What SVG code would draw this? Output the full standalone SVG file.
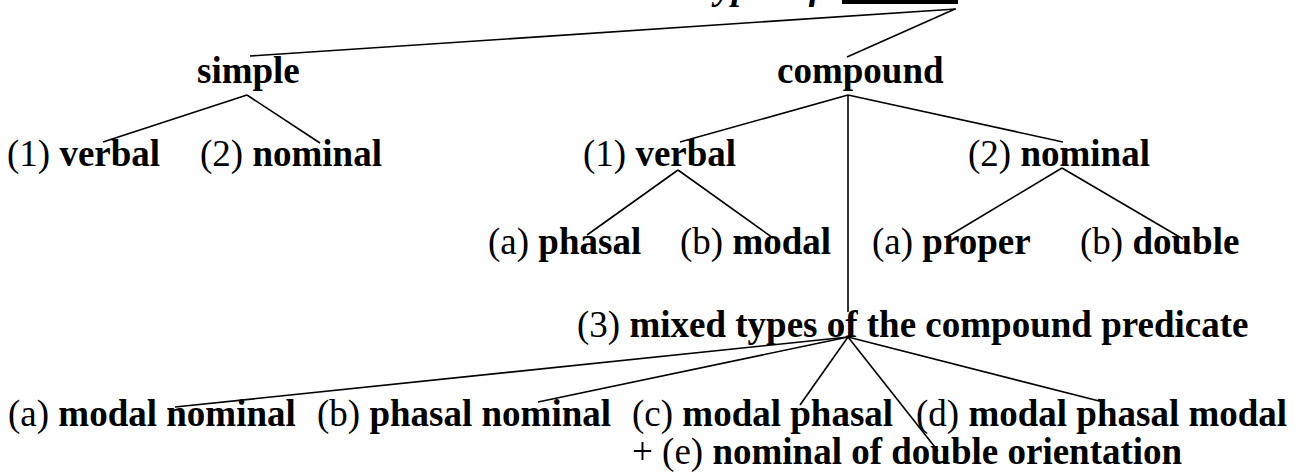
<svg xmlns="http://www.w3.org/2000/svg" width="1300" height="476" viewBox="0 0 1300 476">
<style>
text{font-family:"Liberation Serif","Times New Roman",serif;font-size:37px;fill:#000}
.b{font-weight:bold}
.bi{font-weight:bold;font-style:italic}
.ln{stroke:#000;stroke-width:1.6;fill:none}
</style>
<rect width="1300" height="476" fill="#fff"/>
<g id="title">
<text x="694" y="-1" class="bi">Types of</text>
<rect x="842" y="0" width="116" height="4" fill="#000"/>
</g>
<g id="connectors" class="ln">
<line x1="956" y1="9" x2="250" y2="56"/>
<line x1="955" y1="9" x2="847" y2="57"/>
<line x1="247" y1="95" x2="103" y2="142"/>
<line x1="247" y1="95" x2="320" y2="143"/>
<line x1="848" y1="95" x2="680" y2="142"/>
<line x1="848" y1="95" x2="1063" y2="142"/>
<line x1="848" y1="95" x2="848" y2="312"/>
<line x1="678" y1="170" x2="587" y2="235"/>
<line x1="678" y1="170" x2="773" y2="238"/>
<line x1="1062" y1="168" x2="947" y2="237"/>
<line x1="1062" y1="168" x2="1183" y2="239"/>
<line x1="848" y1="337" x2="175" y2="407"/>
<line x1="848" y1="337" x2="538" y2="402"/>
<line x1="848" y1="337" x2="800" y2="405"/>
<line x1="848" y1="337" x2="938" y2="451"/>
<line x1="848" y1="337" x2="1103" y2="402"/>
</g>
<g id="simple"><text x="197" y="83" class="b">simple</text></g>
<g id="compound"><text x="777" y="83" class="b">compound</text></g>
<g id="simple-verbal"><text x="7" y="166">(1) <tspan class="b">verbal</tspan></text></g>
<g id="simple-nominal"><text x="200" y="166">(2) <tspan class="b">nominal</tspan></text></g>
<g id="compound-verbal"><text x="583" y="166">(1) <tspan class="b">verbal</tspan></text></g>
<g id="compound-nominal"><text x="968" y="166">(2) <tspan class="b">nominal</tspan></text></g>
<g id="phasal"><text x="488" y="254">(a) <tspan class="b">phasal</tspan></text></g>
<g id="modal"><text x="680" y="254">(b) <tspan class="b">modal</tspan></text></g>
<g id="proper"><text x="872" y="254">(a) <tspan class="b">proper</tspan></text></g>
<g id="double"><text x="1080" y="254">(b) <tspan class="b">double</tspan></text></g>
<g id="mixed"><text x="577" y="337">(3) <tspan class="b">mixed types of the compound predicate</tspan></text></g>
<g id="modal-nominal"><text x="8" y="426">(a) <tspan class="b">modal nominal</tspan></text></g>
<g id="phasal-nominal"><text x="317" y="426">(b) <tspan class="b">phasal nominal</tspan></text></g>
<g id="modal-phasal"><text x="632" y="426">(c) <tspan class="b">modal phasal</tspan></text></g>
<g id="modal-phasal-modal"><text x="916" y="426">(d) <tspan class="b">modal phasal modal</tspan></text></g>
<g id="double-orientation"><text x="632" y="464">+ (e) <tspan class="b">nominal of double orientation</tspan></text></g>
</svg>
